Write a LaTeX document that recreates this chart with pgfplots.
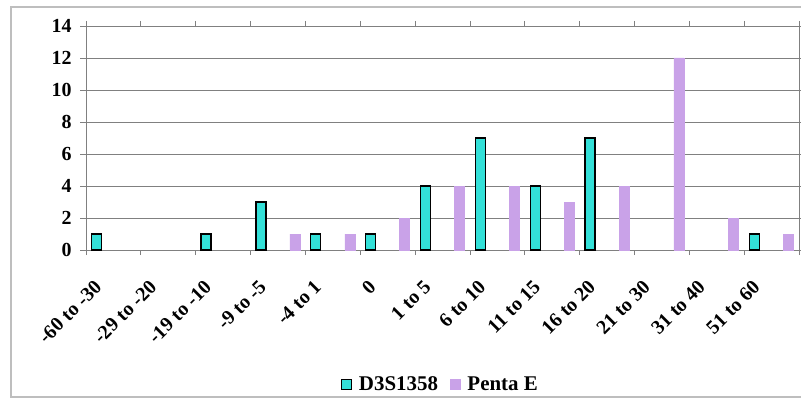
\documentclass[border=0pt]{standalone}
\usepackage{pgfplots}
\pgfplotsset{compat=1.18}
\usepackage{fontspec}
\setmainfont{Liberation Serif}
\definecolor{tealbar}{RGB}{51,224,216}
\definecolor{lavbar}{RGB}{201,162,232}
\definecolor{gridgray}{RGB}{128,128,128}
\definecolor{framegray}{RGB}{190,190,190}

\begin{document}
\begin{tikzpicture}[x=1bp,y=1bp]
\useasboundingbox (0,0) rectangle (801,402);
% chart frame
\draw[framegray, line width=1.2bp] (11,5) rectangle (812,395);
\begin{axis}[
  at={(86bp,152bp)}, anchor=south west,
  scale only axis, width=713bp, height=224bp,
  xmin=-0.5, xmax=12.5, ymin=0, ymax=14,
  xtick={0,...,12},
  xticklabels={-60 to -30,-29 to -20,-19 to -10,-9 to -5,-4 to 1,0,1 to 5,6 to 10,11 to 15,16 to 20,21 to 30,31 to 40,51 to 60},
  minor xtick={-0.5,0.5,...,12.5},
  major x tick style={draw=none},
  minor x tick style={draw=gridgray, line width=0.8bp},
  minor tick length=5bp,
  ytick={0,2,...,14},
  y tick style={draw=gridgray, line width=0.8bp},
  major tick length=6bp,
  tick align=outside,
  /pgf/number format/assume math mode=true,
  ymajorgrids, grid style={gridgray, line width=0.8bp},
  axis line style={gridgray, line width=0.9bp},
  tick label style={font=\bfseries\fontsize{20}{22}\selectfont},
  yticklabel style={xshift=-5bp},
  xticklabel style={xshift=-20bp, yshift=-18bp, rotate=45, anchor=north east},
  legend style={at={(0.497,-0.60)}, anchor=center, draw=none, fill=none,
    font=\bfseries\fontsize{21}{23}\selectfont, legend columns=2,
    /tikz/every even column/.append style={column sep=10bp},
    /tikz/every odd column/.append style={column sep=5bp}},
  legend cell align=left,
]
\addplot[ybar, bar width=10bp, bar shift=-17bp, fill=tealbar, draw=black, line width=1.3bp,
  legend image code/.code={\draw[fill=tealbar, draw=black, line width=1bp] (0bp,-5bp) rectangle (10bp,5bp);}]
  coordinates {(0,1) (2,1) (3,3) (4,1) (5,1) (6,4) (7,7) (8,4) (9,7) (12,1)};
\addlegendentry{D3S1358}
\addplot[ybar, bar width=10bp, bar shift=17bp, fill=lavbar, draw=lavbar, line width=0.5bp,
  legend image code/.code={\draw[fill=lavbar, draw=lavbar] (0bp,-5bp) rectangle (10bp,5bp);}]
  coordinates {(3,1) (4,1) (5,2) (6,4) (7,4) (8,3) (9,4) (10,12) (11,2) (12,1)};
\addlegendentry{Penta E}
\end{axis}
\end{tikzpicture}
\end{document}
